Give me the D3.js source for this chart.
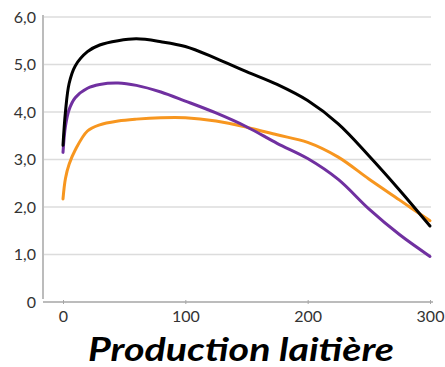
<!DOCTYPE html>
<meta charset="utf-8">
<style>
	body { margin: 0; background: #fff; }
	.grid line { stroke: #dcdcdc; stroke-width: 1.5; }
	.tick-label { font-family: Lato, "Noto Sans", sans-serif; font-size: 16px; fill: #333; }
	.axis-line { stroke: #a6a6a6; stroke-width: 1.5; }
	.series { fill: none; stroke-width: 3; stroke-linecap: round; }
	.title { font-family: Lato, "Noto Sans", sans-serif; font-size: 33px; font-weight: 700; font-style: italic; fill: #000; }
</style>
<div class="vis"></div>
<script src="https://d3js.org/d3.v7.min.js"></script>
<script>
	// Data
	const xValues = [0, 2, 5, 10, 20, 30, 45, 60, 80, 100, 125, 150, 175, 200, 225, 250, 275, 300];
	const blackSeries = [3.3, 4.0, 4.6, 4.97, 5.27, 5.41, 5.5, 5.54, 5.48, 5.38, 5.13, 4.85, 4.58, 4.24, 3.75, 3.08, 2.36, 1.6];
	const purpleSeries = [3.15, 3.7, 4.05, 4.3, 4.5, 4.58, 4.61, 4.56, 4.42, 4.23, 3.98, 3.69, 3.34, 3.02, 2.58, 1.96, 1.42, 0.96];
	const orangeSeries = [2.17, 2.6, 2.9, 3.2, 3.6, 3.73, 3.81, 3.85, 3.88, 3.88, 3.81, 3.68, 3.52, 3.36, 3.05, 2.59, 2.15, 1.71];
	const yTicks = [0, 1, 2, 3, 4, 5, 6];
	const xTicks = [0, 100, 200, 300];
	const title = "Production laitière";

	const series = [
		{ values: orangeSeries, color: "#f7961f" },
		{ values: purpleSeries, color: "#7030a0" },
		{ values: blackSeries, color: "#000000" }
	];

	const W = 445, H = 367;

	let x = d3.scaleLinear().domain([0, 300]).range([63, 430]);
	let y = d3.scaleLinear().domain([0, 6]).range([302, 17]);

	let svg = d3.select(".vis").append("svg")
		.attr("width", W)
		.attr("height", H);

	// grid lines
	svg.append("g").attr("class", "grid")
		.selectAll("line")
		.data(yTicks.filter(d => d > 0))
		.join("line")
			.attr("x1", 44).attr("x2", 431)
			.attr("y1", d => y(d)).attr("y2", d => y(d));

	// y labels
	svg.append("g")
		.selectAll("text")
		.data(yTicks)
		.join("text")
			.attr("class", "tick-label")
			.attr("x", 36)
			.attr("y", d => y(d))
			.attr("dy", "0.35em")
			.attr("text-anchor", "end")
			.text(d => d === 0 ? "0" : d3.format(".1f")(d).replace(".", ","));

	// axes lines
	svg.append("line").attr("class", "axis-line")
		.attr("x1", 43).attr("x2", 43)
		.attr("y1", 15).attr("y2", 299);

	let xAxis = d3.axisBottom(x).tickValues(xTicks).tickSize(3).tickFormat(d3.format("d"));
	let gx = svg.append("g")
		.attr("transform", "translate(0," + y(0) + ")")
		.call(xAxis);
	gx.select(".domain").remove();
	gx.selectAll(".tick line").attr("stroke", "#a6a6a6").attr("y1", -2).attr("y2", 2);
	gx.selectAll(".tick text").attr("class", "tick-label").attr("y", 14).attr("dy", "0.35em").attr("fill", null);
	svg.append("line").attr("class", "axis-line")
		.attr("x1", 43).attr("x2", 433)
		.attr("y1", y(0)).attr("y2", y(0));

	// curves
	let line = d3.line()
		.x((d, i) => x(xValues[i]))
		.y(d => y(d))
		.curve(d3.curveCatmullRom.alpha(0.5));

	svg.append("g")
		.selectAll("path")
		.data(series)
		.join("path")
			.attr("class", "series")
			.attr("stroke", d => d.color)
			.attr("d", d => line(d.values));

	// title
	svg.append("text")
		.attr("class", "title")
		.attr("x", 241)
		.attr("y", 361)
		.attr("text-anchor", "middle")
		.attr("textLength", 306)
		.attr("lengthAdjust", "spacingAndGlyphs")
		.text(title);
</script>
